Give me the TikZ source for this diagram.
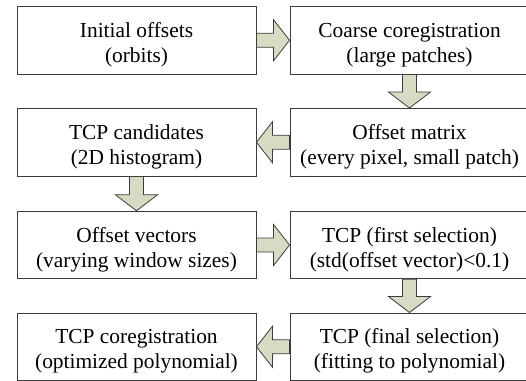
\documentclass[tikz,border=0pt]{standalone}
\usepackage{fontspec}
\setmainfont{Liberation Serif}
\usetikzlibrary{calc}
\definecolor{boxline}{RGB}{60,60,60}
\definecolor{arrowfill}{RGB}{215,219,196}
\tikzset{
  stepbox/.style={draw=boxline, line width=0.9pt, rectangle, minimum width=239pt, minimum height=67.5pt, inner sep=0pt},
  steptext/.style={inner sep=0pt, align=center, font=\fontsize{21.4}{25}\selectfont, yshift=-4.5pt},
  blockarrow/.style={draw=boxline, line width=0.8pt, fill=arrowfill, line join=miter}
}
\newcommand\rarrow[2]{\draw[blockarrow] ($(#1.east)+(0,7)$) -- ($(#2.west)+(-16,7)$) -- ($(#2.west)+(-16,20.5)$) -- (#2.west) -- ($(#2.west)+(-16,-20.5)$) -- ($(#2.west)+(-16,-7)$) -- ($(#1.east)+(0,-7)$) -- cycle;}
\newcommand\larrow[2]{\draw[blockarrow] ($(#1.west)+(0,7)$) -- ($(#2.east)+(16,7)$) -- ($(#2.east)+(16,20.5)$) -- (#2.east) -- ($(#2.east)+(16,-20.5)$) -- ($(#2.east)+(16,-7)$) -- ($(#1.west)+(0,-7)$) -- cycle;}
\newcommand\darrow[2]{\draw[blockarrow] ($(#1.south)+(-7,0)$) -- ($(#2.north)+(-7,16)$) -- ($(#2.north)+(-21,16)$) -- (#2.north) -- ($(#2.north)+(21,16)$) -- ($(#2.north)+(7,16)$) -- ($(#1.south)+(7,0)$) -- cycle;}
\begin{document}
\begin{tikzpicture}[x=1pt,y=1pt]
\useasboundingbox (0,0) rectangle (526,380);
\clip (0,0) rectangle (526,380);
\node[stepbox] (n1) at (136.5,339.75) {};
\node[stepbox] (n2) at (409.5,339.75) {};
\node[stepbox] (n3) at (409.5,237.75) {};
\node[stepbox] (n4) at (136.5,237.75) {};
\node[stepbox] (n5) at (136.5,135) {};
\node[stepbox] (n6) at (409.5,135) {};
\node[stepbox] (n7) at (409.5,33.25) {};
\node[stepbox] (n8) at (136.5,33.25) {};
\node[steptext] (t1) at (n1.center) {Initial offsets\\(orbits)};
\node[steptext] (t2) at (n2.center) {Coarse coregistration\\(large patches)};
\node[steptext] (t3) at (n3.center) {Offset matrix\\(every pixel, small patch)};
\node[steptext] (t4) at (n4.center) {TCP candidates\\(2D histogram)};
\node[steptext] (t5) at (n5.center) {Offset vectors\\(varying window sizes)};
\node[steptext] (t6) at (n6.center) {TCP (first selection)\\(std(offset vector)<0.1)};
\node[steptext] (t7) at (n7.center) {TCP (final selection)\\(fitting to polynomial)};
\node[steptext] (t8) at (n8.center) {TCP coregistration\\(optimized polynomial)};
\rarrow{n1}{n2}
\darrow{n2}{n3}
\larrow{n3}{n4}
\darrow{n4}{n5}
\rarrow{n5}{n6}
\darrow{n6}{n7}
\larrow{n7}{n8}
\end{tikzpicture}
\end{document}
